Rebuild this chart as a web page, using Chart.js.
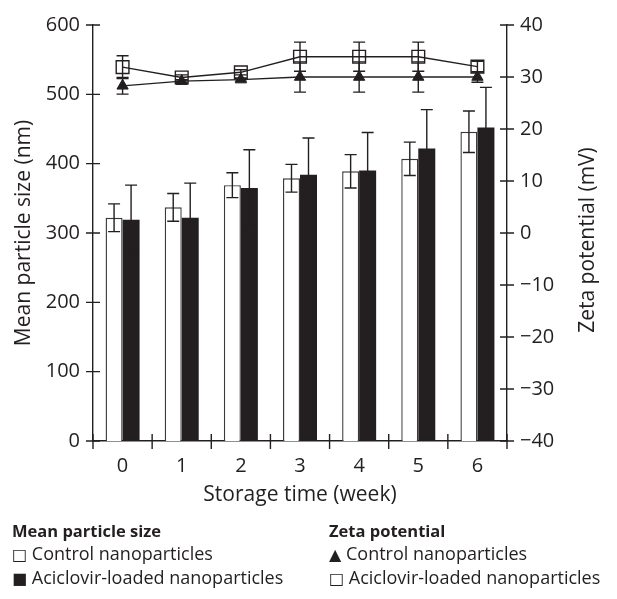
<!DOCTYPE html>
<html>
<head>
<meta charset="utf-8">
<script src="https://cdn.jsdelivr.net/npm/chart.js@4.4.0/dist/chart.umd.min.js"></script>
<style>
	body { margin: 0; background: #fff; }
	#wrap { position: relative; width: 617px; height: 599px; }
	#grafico { position: absolute; left: 0; top: 0; }
	.leyenda { position: absolute; font-family: "Open Sans", "DejaVu Sans", sans-serif; font-size: 18px; color: #231f20; line-height: 20px; white-space: nowrap; }
	.leyenda b { font-weight: 700; font-size: 16.5px; }
	.sym { font-family: "DejaVu Sans", sans-serif; font-size: 16px; }
</style>
</head>
<body>
<div id="wrap">
	<canvas id="grafico" width="617" height="599"></canvas>
	<div class="leyenda" style="left:12px; top:520px;"><b>Mean particle size</b></div>
	<div class="leyenda" style="left:12px; top:543px;"><span class="sym">□</span> Control nanoparticles</div>
	<div class="leyenda" style="left:12px; top:567px;"><span class="sym">■</span> Aciclovir-loaded nanoparticles</div>
	<div class="leyenda" style="left:329px; top:520px;"><b>Zeta potential</b></div>
	<div class="leyenda" style="left:329px; top:543px;"><span class="sym">▲</span> Control nanoparticles</div>
	<div class="leyenda" style="left:329px; top:567px;"><span class="sym">□</span> Aciclovir-loaded nanoparticles</div>
</div>
<script>
var weeks = ['0', '1', '2', '3', '4', '5', '6'];

// mean particle size (nm)
var sizeControl   = [322, 337, 369, 379, 389, 407, 446];
var sizeControlSd = [20, 20, 18, 20, 24, 24, 30];
var sizeLoaded    = [319, 322, 365, 384, 390, 422, 452];
var sizeLoadedSd  = [50, 50, 55, 53, 55, 56, 58];

// zeta potential (mV)
var zetaControl   = [28.3, 29.2, 29.5, 30.0, 30.0, 30.0, 30.0];
var zetaControlSd = [1.6, 0.3, 0.3, 2.9, 2.9, 2.9, 1.0];
var zetaLoaded    = [31.9, 29.9, 30.9, 33.9, 33.9, 33.9, 32.0];
var zetaLoadedSd  = [2.2, 0.5, 0.5, 2.8, 2.8, 2.8, 1.0];

var sizeTicks = [0, 100, 200, 300, 400, 500, 600];
var zetaTicks = [-40, -30, -20, -10, 0, 10, 20, 30, 40];

var ink = '#231f20';
var fuente = '"Open Sans", "DejaVu Sans", sans-serif';

// error bars + crossing tick marks + right title
var extras = {
	id: 'extras',
	afterDatasetsDraw: function(chart) {
		var ctx = chart.ctx;
		ctx.save();
		ctx.strokeStyle = ink;
		ctx.lineWidth = 1.4;
		chart.data.datasets.forEach(function(ds, i) {
			if (!ds.sd) return;
			var meta = chart.getDatasetMeta(i);
			var scale = chart.scales[ds.yAxisID];
			meta.data.forEach(function(el, j) {
				var v = ds.data[j], s = ds.sd[j];
				var yT = scale.getPixelForValue(v + s);
				var yB = scale.getPixelForValue(v - s);
				ctx.beginPath();
				ctx.moveTo(el.x, yT); ctx.lineTo(el.x, yB);
				ctx.moveTo(el.x - 6, yT); ctx.lineTo(el.x + 6, yT);
				ctx.moveTo(el.x - 6, yB); ctx.lineTo(el.x + 6, yB);
				ctx.stroke();
			});
		});
		ctx.restore();
	},
	afterDraw: function(chart) {
		var ctx = chart.ctx;
		var x = chart.scales.x, y = chart.scales.y, y2 = chart.scales.y2;
		var area = chart.chartArea;
		ctx.save();
		ctx.strokeStyle = ink;
		ctx.lineWidth = 1.4;
		ctx.beginPath();
		sizeTicks.forEach(function(t) {
			var p = y.getPixelForValue(t);
			ctx.moveTo(area.left - 7, p); ctx.lineTo(area.left + 7, p);
		});
		zetaTicks.forEach(function(t) {
			var p = y2.getPixelForValue(t);
			ctx.moveTo(area.right - 7, p); ctx.lineTo(area.right + 7, p);
		});
		for (var i = 0; i <= weeks.length; i++) {
			var px = x.getPixelForValue(i - 0.5);
			ctx.moveTo(px, area.bottom - 7); ctx.lineTo(px, area.bottom + 8);
		}
		ctx.stroke();

		ctx.fillStyle = ink;
		ctx.font = '21px ' + fuente;
		ctx.textAlign = 'center';
		ctx.textBaseline = 'middle';
		ctx.translate(588, 240);
		ctx.rotate(-Math.PI / 2);
		ctx.fillText('Zeta potential (mV)', 0, 0);
		ctx.restore();
	}
};

new Chart(document.getElementById('grafico').getContext("2d"), {
	type: 'bar',
	data: {
		labels: weeks,
		datasets: [{
			type: 'line',
			label: 'Zeta - Control nanoparticles',
			data: zetaControl,
			sd: zetaControlSd,
			yAxisID: 'y2',
			order: 0,
			borderColor: ink,
			borderWidth: 1.4,
			pointStyle: 'triangle',
			pointRadius: 6.5,
			pointBackgroundColor: ink,
			pointBorderColor: ink,
			pointBorderWidth: 1,
			tension: 0
		}, {
			type: 'line',
			label: 'Zeta - Aciclovir-loaded nanoparticles',
			data: zetaLoaded,
			sd: zetaLoadedSd,
			yAxisID: 'y2',
			order: 0,
			borderColor: ink,
			borderWidth: 1.4,
			pointStyle: 'rect',
			pointRadius: 9,
			pointBackgroundColor: 'rgba(0,0,0,0)',
			pointBorderColor: ink,
			pointBorderWidth: 1.4,
			tension: 0
		}, {
			label: 'Size - Control nanoparticles',
			data: sizeControl,
			sd: sizeControlSd,
			yAxisID: 'y',
			order: 1,
			backgroundColor: '#ffffff',
			borderColor: '#3a3a3a',
			borderWidth: 1.4,
			categoryPercentage: 0.575,
			barPercentage: 1.0
		}, {
			label: 'Size - Aciclovir-loaded nanoparticles',
			data: sizeLoaded,
			sd: sizeLoadedSd,
			yAxisID: 'y',
			order: 1,
			backgroundColor: ink,
			borderColor: ink,
			borderWidth: 0,
			categoryPercentage: 0.575,
			barPercentage: 1.0
		}]
	},
	options: {
		responsive: false,
		animation: false,
		layout: { padding: { top: 21, bottom: 79, left: 0, right: 0 } },
		plugins: {
			legend: { display: false },
			tooltip: { enabled: false }
		},
		scales: {
			x: {
				grid: { display: false, drawTicks: false },
				border: { display: true, color: ink, width: 1.4 },
				ticks: { color: ink, padding: 13, font: { family: fuente, size: 20 } },
				title: { display: true, text: 'Storage time (week)', color: ink, padding: { top: 0, bottom: 12 }, font: { family: fuente, size: 21 } },
				afterFit: function(s) { s.height = 79; }
			},
			y: {
				position: 'left',
				min: 0, max: 600,
				afterBuildTicks: function(s) { s.ticks = sizeTicks.map(function(v) { return { value: v }; }); },
				grid: { display: false, drawTicks: false },
				border: { display: true, color: ink, width: 1.4 },
				ticks: { color: ink, padding: 13, font: { family: fuente, size: 20 } },
				title: { display: true, text: 'Mean particle size (nm)', color: ink, padding: { top: 11, bottom: 0 }, font: { family: fuente, size: 21 } },
				afterFit: function(s) { s.width = 93; }
			},
			y2: {
				position: 'right',
				min: -40, max: 40,
				afterBuildTicks: function(s) { s.ticks = zetaTicks.map(function(v) { return { value: v }; }); },
				grid: { display: false, drawTicks: false },
				border: { display: true, color: ink, width: 1.4 },
				ticks: {
					color: ink, padding: 13, font: { family: fuente, size: 20 },
					callback: function(v) { return v < 0 ? '\u2212' + Math.abs(v) : String(v); }
				},
				afterFit: function(s) { s.width = 110; }
			}
		}
	},
	plugins: [extras]
});
</script>
</body>
</html>
